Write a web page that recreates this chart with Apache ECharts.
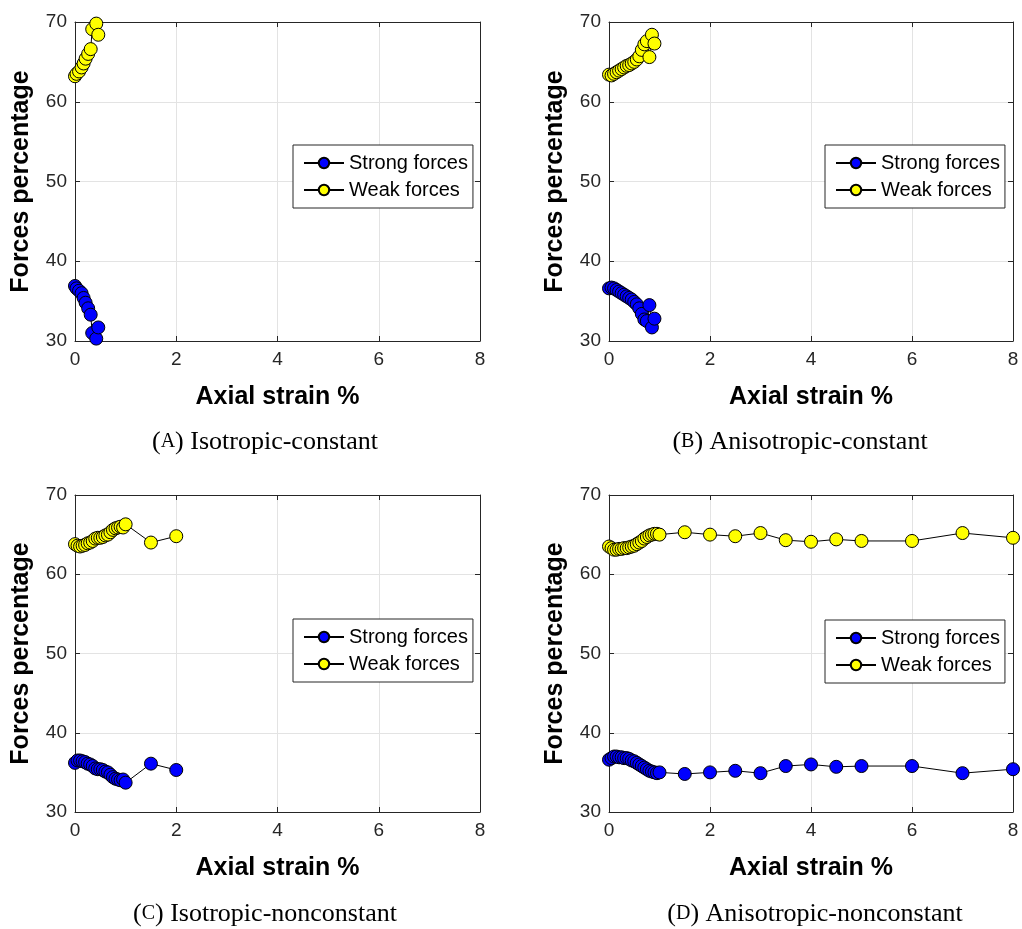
<!DOCTYPE html>
<html>
<head>
<meta charset="utf-8">
<script src="https://cdn.jsdelivr.net/npm/echarts@6/dist/echarts.min.js"></script>
<style>
html,body{margin:0;padding:0;background:#fff;}
#chart{width:1022px;height:929px;}
</style>
</head>
<body>
<div id="chart"></div>
<script>
// ---- Data ----
const xTicks = [0, 2, 4, 6, 8];
const yTicks = [30, 40, 50, 60, 70];
const seriesNames = ['Strong forces', 'Weak forces'];
const captions = [['A', 'Isotropic-constant'], ['B', 'Anisotropic-constant'], ['C', 'Isotropic-nonconstant'], ['D', 'Anisotropic-nonconstant']];

const A_x = [0, 0.03, 0.08, 0.13, 0.17, 0.21, 0.26, 0.31, 0.34, 0.42, 0.46];
const A_strong = [36.9, 36.6, 36.3, 36.0, 35.4, 34.8, 34.1, 33.3, 31.0, 30.3, 31.7];
const A_weak = [63.2, 63.5, 63.8, 64.3, 64.8, 65.4, 66.0, 66.6, 69.1, 69.8, 68.4];

const B_x = [0, 0.05, 0.1, 0.15, 0.2, 0.25, 0.3, 0.35, 0.4, 0.45, 0.5, 0.55, 0.6, 0.65, 0.7, 0.75, 0.8, 0.85, 0.9];
const B_strong = [36.6, 36.7, 36.6, 36.4, 36.2, 36.0, 35.8, 35.6, 35.4, 35.2, 34.9, 34.6, 34.1, 33.4, 32.7, 32.5, 34.5, 31.7, 32.8];
const B_weak = [63.4, 63.3, 63.5, 63.7, 63.9, 64.1, 64.3, 64.5, 64.6, 64.8, 65.0, 65.3, 65.7, 66.5, 67.2, 67.6, 65.6, 68.4, 67.3];

const C_x = [0, 0.05, 0.1, 0.15, 0.2, 0.25, 0.3, 0.35, 0.4, 0.45, 0.5, 0.55, 0.6, 0.65, 0.7, 0.75, 0.8, 0.85, 0.9, 0.95, 1.0, 1.5, 2.0];
const C_strong = [36.2, 36.5, 36.5, 36.4, 36.3, 36.1, 36.0, 35.8, 35.5, 35.4, 35.4, 35.3, 35.1, 35.0, 34.7, 34.4, 34.2, 34.1, 34.0, 34.1, 33.7, 36.1, 35.3];
const C_weak = [63.8, 63.6, 63.5, 63.6, 63.7, 63.9, 64.0, 64.2, 64.5, 64.6, 64.6, 64.7, 64.9, 65.0, 65.3, 65.6, 65.8, 65.9, 66.0, 65.9, 66.3, 64.0, 64.8];

const D_x = [0, 0.05, 0.1, 0.15, 0.2, 0.25, 0.3, 0.35, 0.4, 0.45, 0.5, 0.55, 0.6, 0.65, 0.7, 0.75, 0.8, 0.85, 0.9, 0.95, 1.0, 1.5, 2, 2.5, 3, 3.5, 4, 4.5, 5, 6, 7, 8];
const D_strong = [36.6, 36.8, 37.0, 37.0, 36.9, 36.9, 36.8, 36.8, 36.7, 36.5, 36.4, 36.2, 36.0, 35.8, 35.6, 35.4, 35.2, 35.1, 35.0, 34.9, 35.0, 34.8, 35.0, 35.2, 34.9, 35.8, 36.0, 35.7, 35.8, 35.8, 34.9, 35.4];
const D_weak = [63.5, 63.3, 63.1, 63.1, 63.2, 63.2, 63.3, 63.3, 63.4, 63.5, 63.6, 63.8, 64.0, 64.2, 64.5, 64.7, 64.9, 65.0, 65.1, 65.1, 65.0, 65.3, 65.0, 64.8, 65.2, 64.3, 64.1, 64.4, 64.2, 64.2, 65.2, 64.6];

const panelsData = [
  [A_x, A_strong, A_weak],
  [B_x, B_strong, B_weak],
  [C_x, C_strong, C_weak],
  [D_x, D_strong, D_weak]
];

// ---- Layout ----
const grids = [
  {left: 75, top: 22, width: 405, height: 319},
  {left: 609, top: 22, width: 404, height: 319},
  {left: 75, top: 495, width: 405, height: 317},
  {left: 609, top: 495, width: 404, height: 317}
];
const legendPos = [
  {left: 293, top: 145},
  {left: 825, top: 145},
  {left: 293, top: 619},
  {left: 825, top: 620}
];
const captionPos = [[265, 442], [800, 442], [265, 914], [815, 914]];

const AX = '#262626';
const GRIDC = '#e3e3e3';
const SANS = '"Liberation Sans", Arial, Helvetica, sans-serif';
const SERIF = '"Liberation Serif", "Times New Roman", serif';
const colors = ['#0000ff', '#ffff00'];

const xAxes = [], yAxes = [], series = [], legends = [], graphics = [];

grids.forEach((g, i) => {
  const common = {min: xTicks[0], max: xTicks[xTicks.length - 1], interval: xTicks[1] - xTicks[0], type: 'value'};
  xAxes.push(Object.assign({}, common, {
    gridIndex: i, position: 'bottom',
    name: 'Axial strain %', nameLocation: 'middle', nameGap: 44,
    nameTextStyle: {fontFamily: SANS, fontSize: 25, fontWeight: 'bold', color: '#000'},
    axisLine: {show: true, lineStyle: {color: AX, width: 1}},
    axisTick: {show: true, inside: true, length: 5, lineStyle: {color: AX}},
    axisLabel: {show: true, fontFamily: SANS, fontSize: 19, color: AX, margin: 9},
    splitLine: {show: true, lineStyle: {color: GRIDC, width: 1}}
  }));
  xAxes.push(Object.assign({}, common, {
    gridIndex: i, position: 'top',
    axisLine: {show: true, onZero: false, lineStyle: {color: AX, width: 1}},
    axisTick: {show: true, inside: true, length: 5, lineStyle: {color: AX}},
    axisLabel: {show: false}, splitLine: {show: false}
  }));
  const ycommon = {min: yTicks[0], max: yTicks[yTicks.length - 1], interval: yTicks[1] - yTicks[0], type: 'value'};
  yAxes.push(Object.assign({}, ycommon, {
    gridIndex: i, position: 'left',
    name: 'Forces percentage', nameLocation: 'middle', nameGap: 41,
    nameTextStyle: {fontFamily: SANS, fontSize: 25, fontWeight: 'bold', color: '#000'},
    axisLine: {show: true, onZero: false, lineStyle: {color: AX, width: 1}},
    axisTick: {show: true, inside: true, length: 5, lineStyle: {color: AX}},
    axisLabel: {show: true, fontFamily: SANS, fontSize: 19, color: AX, margin: 8},
    splitLine: {show: true, lineStyle: {color: GRIDC, width: 1}}
  }));
  yAxes.push(Object.assign({}, ycommon, {
    gridIndex: i, position: 'right',
    axisLine: {show: true, onZero: false, lineStyle: {color: AX, width: 1}},
    axisTick: {show: true, inside: true, length: 5, lineStyle: {color: AX}},
    axisLabel: {show: false}, splitLine: {show: false}
  }));

  const [xs, strong, weak] = panelsData[i];
  [strong, weak].forEach((vals, k) => {
    series.push({
      type: 'line', name: seriesNames[k],
      xAxisIndex: 2 * i, yAxisIndex: 2 * i,
      data: xs.map((x, j) => [x, vals[j]]),
      symbol: 'circle', symbolSize: 13,
      showAllSymbol: true,
      itemStyle: {color: colors[k], borderColor: '#000', borderWidth: 1},
      lineStyle: {color: '#000', width: 1},
      emphasis: {disabled: true},
      animation: false
    });
  });

  legends.push({
    left: legendPos[i].left, top: legendPos[i].top,
    orient: 'vertical', data: seriesNames,
    itemWidth: 40, itemHeight: 13, itemGap: 7,
    padding: [8, 5, 8, 10],
    borderColor: AX, borderWidth: 1, backgroundColor: '#fff',
    selectedMode: false,
    textStyle: {fontFamily: SANS, fontSize: 20, color: '#000'}
  });

  const [letter, text] = captions[i];
  graphics.push({
    type: 'text', x: captionPos[i][0], y: captionPos[i][1],
    style: {
      text: '{p|(}{s|' + letter + '}{p|) ' + text + '}',
      align: 'center', verticalAlign: 'middle',
      rich: {
        p: {fontFamily: SERIF, fontSize: 26, fill: '#000', color: '#000'},
        s: {fontFamily: SERIF, fontSize: 20, fill: '#000', color: '#000'}
      }
    }
  });
});

const chart = echarts.init(document.getElementById('chart'), null, {renderer: 'canvas'});
chart.setOption({
  animation: false,
  backgroundColor: '#fff',
  grid: grids,
  xAxis: xAxes,
  yAxis: yAxes,
  legend: legends,
  series: series,
  graphic: graphics
});
</script>
</body>
</html>
